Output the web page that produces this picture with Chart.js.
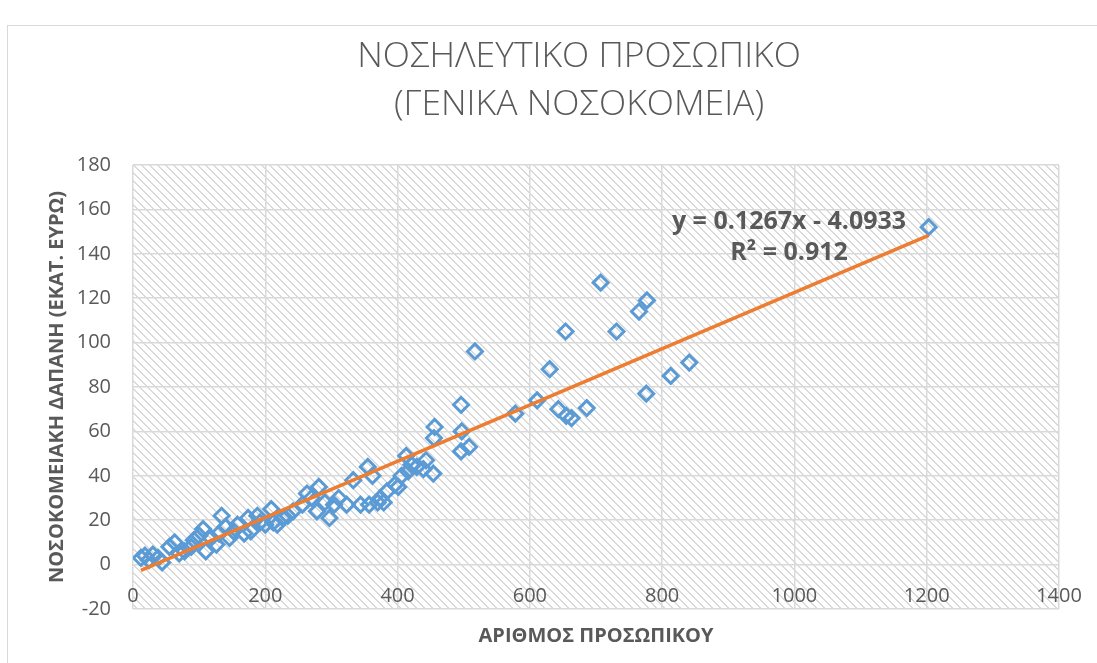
<!DOCTYPE html>
<html>
<head>
<meta charset="utf-8">
<title>Νοσηλευτικό προσωπικό</title>
<script src="https://cdn.jsdelivr.net/npm/chart.js@4.4.1/dist/chart.umd.min.js"></script>
<style>
  html, body { margin: 0; padding: 0; background: #ffffff; }
  #app { width: 1097px; height: 663px; }
</style>
</head>
<body>
<div id="app"><canvas id="chart" width="1097" height="663"></canvas></div>
<script>
'use strict';

// staff per hospital (x) and hospital spending in million euro (y)
var staffCounts = [
  12, 18, 24, 30, 38, 44, 55, 63, 70, 78,
  88, 92, 100, 106, 110, 118, 126, 130, 134, 140,
  146, 152, 158, 168, 174, 178, 188, 192, 200, 209,
  212, 218, 226, 234, 242, 256, 263, 270, 278, 281,
  290, 297, 304, 311, 323, 333, 344, 355, 357, 362,
  370, 374, 379, 384, 396, 401, 406, 413, 416, 421,
  429, 439, 443, 454, 455, 456, 496, 497, 496, 508,
  517, 578, 611, 630, 643, 654, 655, 663, 686, 707,
  731, 765, 776, 777, 813, 841, 1203
];
var spending = [
  3, 4, 2, 4.5, 3, 1, 8, 10, 5, 6,
  8, 11, 13, 16, 6, 12, 9, 14, 22, 17,
  12, 15, 18, 14, 21, 15, 22, 19, 18, 25,
  19, 18, 21, 22, 24, 27, 32, 30, 24, 35,
  28, 21, 27, 30, 27, 38, 27, 44, 27, 40,
  28, 30, 28, 33, 36, 35, 40, 49, 42, 45,
  44, 43, 47, 41, 57, 62, 72, 60, 51, 53,
  96, 68, 74, 88, 70, 105, 67, 66, 70.5, 127,
  105, 114, 77, 119, 85, 91, 152
];

// linear trendline
var slope = 0.1267;
var intercept = -4.0933;
var rSquared = 0.912;

var xTicks = [0, 200, 400, 600, 800, 1000, 1200, 1400];
var yTicks = [-20, 0, 20, 40, 60, 80, 100, 120, 140, 160, 180];

var titleLines = ['ΝΟΣΗΛΕΥΤΙΚΟ ΠΡΟΣΩΠΙΚΟ', '(ΓΕΝΙΚΑ ΝΟΣΟΚΟΜΕΙΑ)'];
var xTitle = 'ΑΡΙΘΜΟΣ ΠΡΟΣΩΠΙΚΟΥ';
var yTitle = 'ΝΟΣΟΚΟΜΕΙΑΚΗ ΔΑΠΑΝΗ (ΕΚΑΤ. ΕΥΡΩ)';

var textGrey = '#595959';
var gridGrey = '#d9d9d9';

Chart.defaults.font.family = "'Open Sans', 'DejaVu Sans', sans-serif";

var points = [];
for (var i = 0; i < staffCounts.length; i++) {
  points.push({ x: staffCounts[i], y: spending[i] });
}

var minX = Math.min.apply(null, staffCounts);
var maxX = Math.max.apply(null, staffCounts);
var trendPoints = [
  { x: minX, y: slope * minX + intercept },
  { x: maxX, y: slope * maxX + intercept }
];

function useTicks(list) {
  return function(scale) {
    scale.ticks = list.map(function(v) { return { value: v }; });
  };
}

function plainNumber(value) {
  return String(value);
}

function makeHatch(ctx) {
  var tile = document.createElement('canvas');
  tile.width = 8;
  tile.height = 8;
  var t = tile.getContext('2d');
  t.fillStyle = '#ffffff';
  t.fillRect(0, 0, 8, 8);
  t.fillStyle = '#dadada';
  for (var i = 0; i < 8; i++) {
    t.fillRect(i, i, 1, 1);
    t.fillRect((i + 1) % 8, i, 1, 1);
  }
  return ctx.createPattern(tile, 'repeat');
}

// frame, hatched plot area, title and trendline equation
var chartText = {
  id: 'chartText',
  beforeDraw: function(chart) {
    var ctx = chart.ctx;
    var area = chart.chartArea;
    ctx.save();
    ctx.strokeStyle = gridGrey;
    ctx.lineWidth = 1;
    ctx.strokeRect(7.5, 25.5, 1300, 800);
    ctx.fillStyle = makeHatch(ctx);
    ctx.fillRect(area.left, area.top, area.right - area.left, area.bottom - area.top);
    ctx.restore();
  },
  afterDraw: function(chart) {
    var ctx = chart.ctx;
    ctx.save();
    ctx.fillStyle = textGrey;
    ctx.textAlign = 'center';
    ctx.textBaseline = 'middle';
    ctx.font = "300 35.5px 'Open Sans'";
    ctx.fillText(titleLines[0], 579, 57);
    ctx.fillText(titleLines[1], 579, 105);

    ctx.font = "bold 25px 'Open Sans'";
    var sign = intercept < 0 ? ' - ' : ' + ';
    ctx.fillText('y = ' + slope + 'x' + sign + Math.abs(intercept), 789, 222);
    ctx.fillText('R² = ' + rSquared, 789, 253);
    ctx.restore();
  }
};

var ctx = document.getElementById('chart').getContext('2d');

new Chart(ctx, {
  type: 'scatter',
  data: {
    datasets: [
      {
        label: 'Γραμμική (τάση)',
        type: 'line',
        data: trendPoints,
        borderColor: '#ED7D31',
        borderWidth: 3.5,
        pointRadius: 0,
        fill: false,
        order: 0,
      },
      {
        label: 'Νοσοκομεία',
        data: points,
        pointStyle: 'rectRot',
        pointRadius: 7.5,
        pointBorderWidth: 3,
        borderColor: '#5B9BD5',
        backgroundColor: 'rgba(0,0,0,0)',
        order: 1,
      },
    ],
  },
  options: {
    responsive: false,
    animation: false,
    devicePixelRatio: 1,
    layout: { padding: { left: 7, right: 38, top: 165, bottom: 54 } },
    plugins: {
      legend: { display: false },
      tooltip: { enabled: false },
      title: { display: false },
    },
    scales: {
      x: {
        type: 'linear',
        position: { y: 0 },
        min: 0,
        max: 1400,
        afterBuildTicks: useTicks(xTicks),
        afterFit: function(scale) {
          scale.paddingLeft = 0;
          scale.paddingRight = 0;
        },
        grid: { color: gridGrey, lineWidth: 1.5, drawTicks: false },
        border: { display: false },
        ticks: { color: textGrey, font: { size: 20 }, padding: 20, maxRotation: 0, autoSkip: false, callback: plainNumber },
        title: {
          display: true,
          text: xTitle,
          color: textGrey,
          font: { size: 20, weight: 'bold' },
          padding: { top: -4, bottom: 0 },
        },
      },
      y: {
        min: -20,
        max: 180,
        afterBuildTicks: useTicks(yTicks),
        afterFit: function(scale) { scale.width = 126; },
        grid: { color: gridGrey, lineWidth: 1.5, drawTicks: false },
        border: { display: false },
        ticks: { color: textGrey, font: { size: 20 }, padding: 22, callback: plainNumber },
        title: {
          display: true,
          text: yTitle,
          color: textGrey,
          font: { size: 20, weight: 'bold' },
          padding: { top: 38, bottom: 0 },
        },
      },
    },
  },
  plugins: [chartText],
});
</script>
</body>
</html>
